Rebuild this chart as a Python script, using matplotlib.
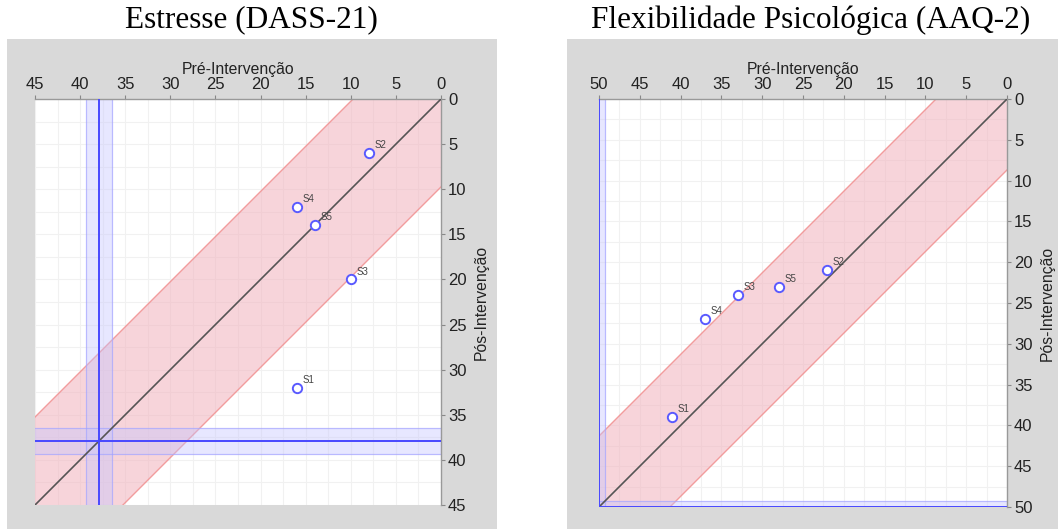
import matplotlib.pyplot as plt
from matplotlib.patches import Rectangle
from matplotlib.ticker import MultipleLocator

# dados
sujeitos = ['S1', 'S2', 'S3', 'S4', 'S5']

stress_pre = [16, 8, 10, 16, 14]
stress_pos = [32, 6, 20, 12, 14]
stress_max = 45
stress_rci = 9.75      # meia-largura da faixa de mudança
stress_corte = 37.9    # ponto de corte
stress_corte_ic = 1.45

aaq_pre = [41, 22, 33, 37, 28]
aaq_pos = [39, 21, 24, 27, 23]
aaq_max = 50
aaq_rci = 8.7
aaq_corte = 50
aaq_corte_ic = 0.75

W, H = 1058, 529
fig = plt.figure(figsize=(W / 100, H / 100), dpi=100)

# fundos cinzentos
fig.patches.append(Rectangle((7 / W, 0), 490 / W, 490 / H, transform=fig.transFigure,
                             facecolor='#d9d9d9', edgecolor='none', zorder=-5))
fig.patches.append(Rectangle((567 / W, 0), 491 / W, 490 / H, transform=fig.transFigure,
                             facecolor='#d9d9d9', edgecolor='none', zorder=-5))


def painel(rect, pre, pos, vmax, rci, corte, corte_ic, titulo, title_x):
    ax = fig.add_axes(rect)
    ax.set_facecolor('white')
    ax.set_xlim(vmax, 0)
    ax.set_ylim(vmax, 0)

    # faixa de mudança
    xs = [0, vmax]
    ax.fill_between(xs, [x - rci for x in xs], [x + rci for x in xs],
                    color='#f2b8c2', alpha=0.6, lw=0, zorder=1)
    ax.plot(xs, [x - rci for x in xs], color='#f08a8a', lw=1, alpha=0.8, zorder=2)
    ax.plot(xs, [x + rci for x in xs], color='#f08a8a', lw=1, alpha=0.8, zorder=2)
    ax.plot(xs, xs, color='#555555', lw=1.2, zorder=3)

    # ponto de corte
    ax.axvspan(corte - corte_ic, corte + corte_ic, color='#c4c4ff', alpha=0.4, zorder=2)
    ax.axhspan(corte - corte_ic, corte + corte_ic, color='#c4c4ff', alpha=0.4, zorder=2)
    for v in (corte - corte_ic, corte + corte_ic):
        ax.axvline(v, color='#a0a0ff', lw=0.8, alpha=0.6, zorder=2)
        ax.axhline(v, color='#a0a0ff', lw=0.8, alpha=0.6, zorder=2)
    ax.axvline(corte, color='#4848ff', lw=1.4, zorder=3)
    ax.axhline(corte, color='#4848ff', lw=1.4, zorder=3)

    ax.scatter(pre, pos, s=45, facecolors='white', edgecolors='#5a5aff',
               linewidths=1.4, zorder=5, clip_on=False)
    for s, x, y in zip(sujeitos, pre, pos):
        ax.annotate(s, (x, y), xytext=(4, 3.5), textcoords='offset points',
                    fontsize=7, color='#444444', family='Liberation Sans', zorder=6)

    ax.xaxis.set_major_locator(MultipleLocator(5))
    ax.yaxis.set_major_locator(MultipleLocator(5))
    ax.xaxis.set_minor_locator(MultipleLocator(2.5))
    ax.yaxis.set_minor_locator(MultipleLocator(2.5))
    ax.grid(which='both', color='#f1f1f1', lw=0.8, zorder=0)
    ax.set_axisbelow(True)

    ax.xaxis.tick_top()
    ax.yaxis.tick_right()
    ax.xaxis.set_label_position('top')
    ax.yaxis.set_label_position('right')
    ax.tick_params(which='major', length=3, width=0.8, color='#888888', labelcolor='#222222',
                   labelsize=12, pad=2)
    ax.tick_params(which='minor', length=0)
    for t in ax.get_xticklabels() + ax.get_yticklabels():
        t.set_family('Liberation Sans')
    ax.set_xlabel('Pré-Intervenção', fontsize=11.3, color='#222222', family='Liberation Sans',
                  labelpad=2.5)
    ax.set_ylabel('Pós-Intervenção', fontsize=11.3, color='#222222', family='Liberation Sans',
                  labelpad=5)
    for side in ('left', 'bottom'):
        ax.spines[side].set_visible(False)
    for side in ('top', 'right'):
        ax.spines[side].set_color('#999999')
        ax.spines[side].set_linewidth(1)

    fig.text(title_x / W, 1 - 20 / H, titulo, ha='center', va='center',
             fontsize=22.5, family='Liberation Serif', color='black')
    return ax


painel([35 / W, 24 / H, 406 / W, 406 / H], stress_pre, stress_pos, stress_max,
       stress_rci, stress_corte, stress_corte_ic, 'Estresse (DASS-21)', 251)
painel([599 / W, 22 / H, 408 / W, 408 / H], aaq_pre, aaq_pos, aaq_max,
       aaq_rci, aaq_corte, aaq_corte_ic, 'Flexibilidade Psicológica (AAQ-2)', 811)

fig.savefig('out.png', dpi=100, facecolor='white')
